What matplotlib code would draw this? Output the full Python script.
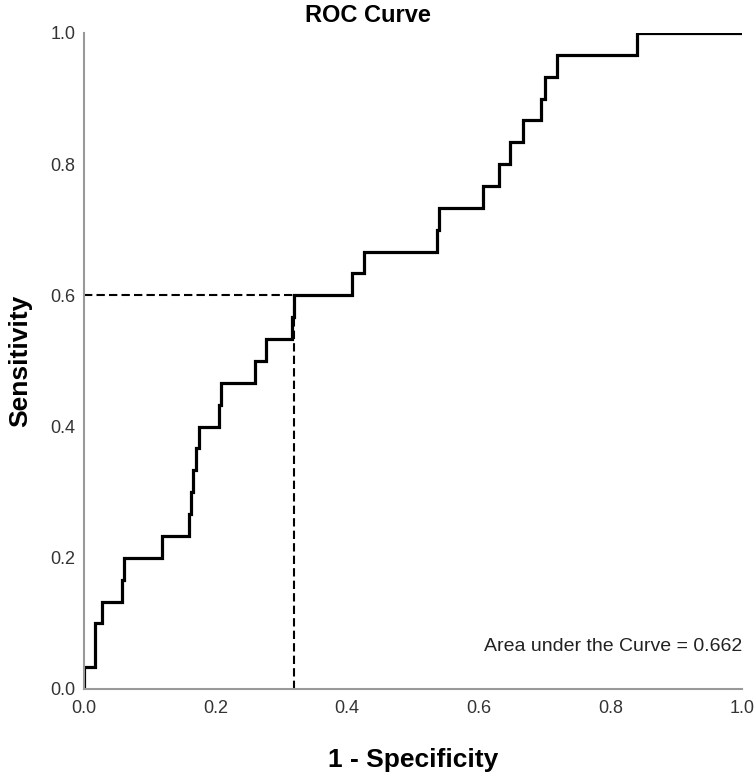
import numpy as np
import matplotlib
matplotlib.use("Agg")
import matplotlib.pyplot as plt

plt.rcParams['font.family'] = ['Liberation Sans', 'DejaVu Sans']

# ROC step curve (30 positives)
fpr = [0.0, 0.0, 0.017, 0.028, 0.058, 0.061, 0.118, 0.159, 0.162, 0.166,
       0.170, 0.175, 0.205, 0.208, 0.260, 0.277, 0.316, 0.319, 0.408, 0.426,
       0.537, 0.540, 0.606, 0.630, 0.648, 0.667, 0.694, 0.701, 0.719, 0.841, 1.0]
tp_count = [0, 1, 3, 4, 5, 6, 7, 8, 9, 10,
            11, 12, 13, 14, 15, 16, 17, 18, 19, 20,
            21, 22, 23, 24, 25, 26, 27, 28, 29, 30, 30]
n_pos = 30
cut_fpr = 0.319
cut_tpr = 0.6
auc = 0.662
ticks = [0.0, 0.2, 0.4, 0.6, 0.8, 1.0]

tpr = np.array(tp_count) / n_pos

fig = plt.figure(figsize=(7.55, 7.75), dpi=100)
ax = fig.add_axes([0.1113, 0.111, 0.8715, 0.8465])

# cut-off guides
ax.plot([0, cut_fpr], [cut_tpr, cut_tpr], color='black', lw=1.5, ls=(0, (4, 2)))
ax.plot([cut_fpr, cut_fpr], [0, cut_tpr], color='black', lw=1.5, ls=(0, (4, 2)))

# the curve
ax.step(fpr, tpr, where='post', color='black', lw=2.3, solid_joinstyle='miter')

ax.set_xlim(0, 1)
ax.set_ylim(0, 1)
ax.set_xticks(ticks)
ax.set_yticks(ticks)
ax.set_xticklabels([f'{t:.1f}' for t in ticks])
ax.set_yticklabels([f'{t:.1f}' for t in ticks])
ax.tick_params(length=0, labelsize=13, colors='#333333')
ax.tick_params(axis='x', pad=8)
ax.tick_params(axis='y', pad=6)

for s in ['top', 'right']:
    ax.spines[s].set_visible(False)
for s in ['left', 'bottom']:
    ax.spines[s].set_color('#999999')
    ax.spines[s].set_linewidth(1.5)

ax.set_xlabel('1 - Specificity', fontsize=19, fontweight='bold', labelpad=22)
ax.set_ylabel('Sensitivity', fontsize=19, fontweight='bold', labelpad=13)
fig.text(368 / 755, 1 - 15 / 775, 'ROC Curve', fontsize=17, fontweight='bold',
         ha='center', va='center')

ax.text(1.0, 0.064, f'Area under the Curve = {auc:.3f}', fontsize=14,
        ha='right', va='center', color='#222222')

fig.savefig('out.png', dpi=100)
